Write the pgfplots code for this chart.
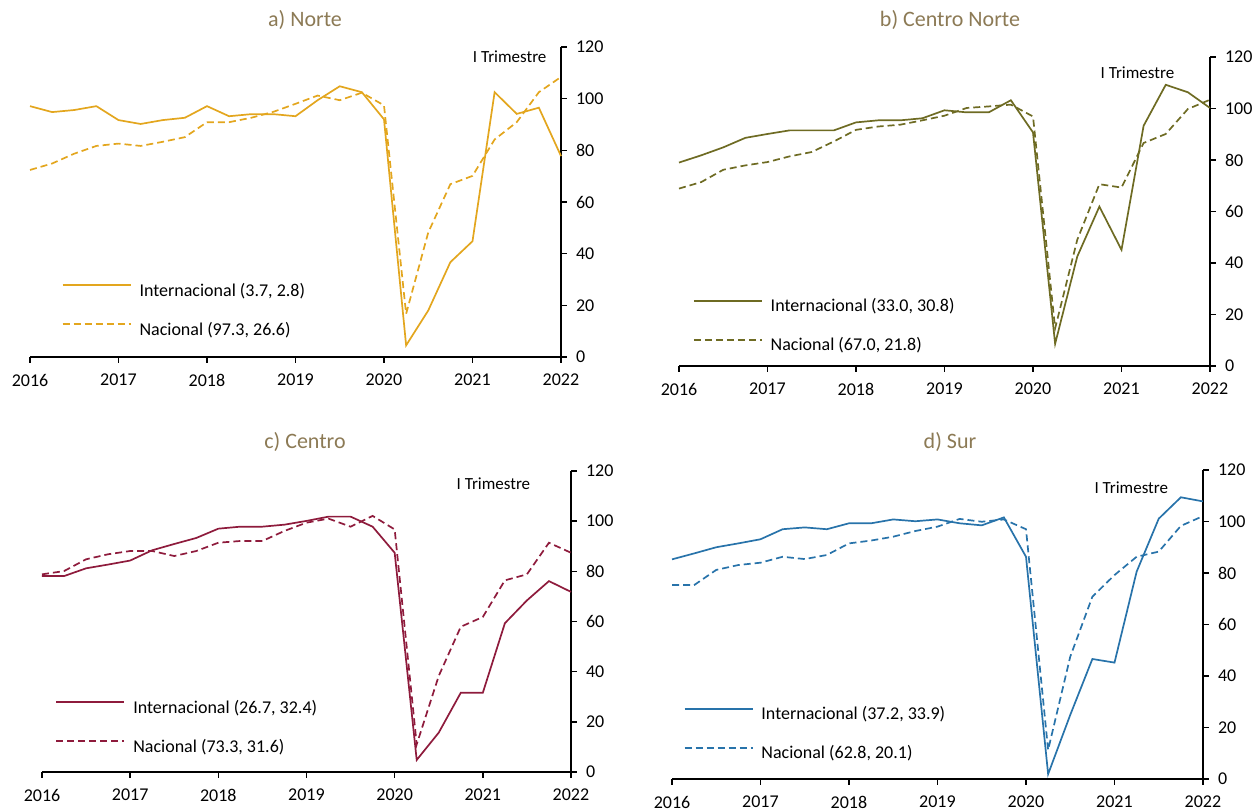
\documentclass[border=0pt]{standalone}
\usepackage{fontspec}
\setmainfont{Carlito}
\usepackage{pgfplots}
\usepackage{pgfplotstable}
\pgfplotsset{compat=1.18}
\definecolor{cnorte}{RGB}{227,166,30}
\definecolor{ccnorte}{RGB}{110,107,35}
\definecolor{ccentro}{RGB}{142,27,60}
\definecolor{csur}{RGB}{40,115,170}
\definecolor{ctitle}{RGB}{140,122,85}

\pgfplotstableread{
x i n
2016.00 97.1 72.4
2016.25 94.8 74.9
2016.50 95.6 78.7
2016.75 97.1 81.7
2017.00 91.7 82.6
2017.25 90.2 81.7
2017.50 91.7 83.3
2017.75 92.6 85.1
2018.00 97.1 90.9
2018.25 93.2 90.9
2018.50 94.0 92.6
2018.75 94.0 94.9
2019.00 93.2 98.0
2019.25 99.4 101.2
2019.50 104.8 99.4
2019.75 102.5 102.3
2020.00 92.0 97.4
2020.25 4.5 16.7
2020.50 18.0 48.2
2020.75 36.7 66.9
2021.00 44.8 70.1
2021.25 102.5 84.2
2021.50 94.1 90.9
2021.75 96.5 102.5
2022.00 77.8 108.4
}\norte

\pgfplotstableread{
x i n
2016.00 79.0 68.9
2016.25 81.8 71.4
2016.50 84.9 76.2
2016.75 88.6 77.9
2017.00 90.1 79.2
2017.25 91.5 81.4
2017.50 91.5 83.1
2017.75 91.5 87.2
2018.00 94.6 91.7
2018.25 95.4 93.0
2018.50 95.4 93.7
2018.75 96.2 95.4
2019.00 99.3 97.2
2019.25 98.5 100.2
2019.50 98.5 100.8
2019.75 103.2 101.5
2020.00 90.7 96.9
2020.25 8.6 14.6
2020.50 42.5 49.0
2020.75 61.9 70.6
2021.00 45.1 69.3
2021.25 93.3 86.6
2021.50 109.2 90.1
2021.75 106.3 99.8
2022.00 100.2 103.4
}\cnorte

\pgfplotstableread{
x i n
2016.00 78.1 78.8
2016.25 78.1 80.1
2016.50 81.2 84.8
2016.75 82.7 86.8
2017.00 84.3 88.1
2017.25 88.4 88.1
2017.50 90.9 86.1
2017.75 93.3 88.1
2018.00 97.0 91.4
2018.25 97.8 92.1
2018.50 97.8 92.1
2018.75 98.6 96.1
2019.00 100.1 99.4
2019.25 101.8 101.0
2019.50 101.8 97.8
2019.75 97.8 102.1
2020.00 87.4 96.7
2020.25 4.8 11.0
2020.50 15.7 38.3
2020.75 31.6 57.9
2021.00 31.6 61.8
2021.25 59.3 76.4
2021.50 68.4 78.8
2021.75 76.1 91.4
2022.00 71.8 87.4
}\centro

\pgfplotstableread{
x i n
2016.00 85.3 75.3
2016.25 87.6 75.3
2016.50 90.0 81.2
2016.75 91.5 83.1
2017.00 93.1 84.0
2017.25 97.0 86.3
2017.50 97.7 85.4
2017.75 97.0 87.0
2018.00 99.3 91.5
2018.25 99.3 92.6
2018.50 100.8 94.1
2018.75 100.1 96.3
2019.00 100.8 98.0
2019.25 99.3 101.0
2019.50 98.5 99.9
2019.75 101.6 100.8
2020.00 86.3 97.0
2020.25 1.9 11.3
2020.50 24.9 47.5
2020.75 46.6 70.8
2021.00 45.2 79.2
2021.25 80.5 86.3
2021.50 101.1 88.3
2021.75 109.4 98.3
2022.00 107.8 102.1
}\sur

\pgfplotsset{panel/.style={
  scale only axis, anchor=south west,
  xmin=2016, xmax=2022, ymin=0, ymax=120,
  axis x line=bottom, axis y line=right,
  axis line style={-, line width=0.75pt, black},
  xtick={2016,2017,...,2022}, ytick={0,20,...,120},
  x tick label style={/pgf/number format/.cd, 1000 sep={}, /tikz/.cd, yshift=-2pt},
  y tick label style={xshift=1pt},
  /pgf/number format/assume math mode=true,
  tick align=outside, major tick length=3pt,
  tick style={black, line width=0.75pt},
  ticklabel style={font=\fontsize{9}{10}\selectfont},
  clip=false,
  legend cell align=left,
  legend style={draw=none, fill=none, inner sep=0pt,
    font=\fontsize{9}{11}\selectfont, row sep=10.5pt,
    nodes={inner sep=0pt, text height=7pt, text depth=2pt}},
  legend image code/.code={\draw[##1] (0pt,3pt) -- (34pt,3pt); \path (38pt,3pt);},
},
solidl/.style={line width=0.85pt},
dashl/.style={line width=0.85pt, dash pattern=on 3.5pt off 2pt},
}

\begin{document}
\begin{tikzpicture}
\path[use as bounding box] (0,0) rectangle (628.5pt,406pt);
\tikzset{ttl/.style={font=\fontsize{11}{12}\selectfont, text=ctitle}}
\node[ttl] at (152.5pt,396pt) {a) Norte};
\node[ttl] at (475pt,396pt) {b) Centro Norte};
\node[ttl] at (152.5pt,185.2pt) {c) Centro};
\node[ttl] at (475pt,185.2pt) {d) Sur};

% a) Norte
\begin{axis}[panel, at={(15pt,227.5pt)}, width=265.5pt, height=155pt,
  legend style={at={(axis cs:2016.355,29.1)}, anchor=north west}]
\addplot[solidl, color=cnorte] table[x=x,y=i] {\norte};
\addlegendentry{Internacional (3.7, 2.8)}
\addplot[dashl, color=cnorte] table[x=x,y=n] {\norte};
\addlegendentry{Nacional (97.3, 26.6)}
\node[font=\fontsize{8.5}{10}\selectfont] at (axis cs:2021.42,116.4) {I Trimestre};
\end{axis}

% b) Centro Norte
\begin{axis}[panel, at={(339.5pt,223pt)}, width=265.5pt, height=154.5pt,
  legend style={at={(axis cs:2016.154,26.6)}, anchor=north west}]
\addplot[solidl, color=ccnorte] table[x=x,y=i] {\cnorte};
\addlegendentry{Internacional (33.0, 30.8)}
\addplot[dashl, color=ccnorte] table[x=x,y=n] {\cnorte};
\addlegendentry{Nacional (67.0, 21.8)}
\node[font=\fontsize{8.5}{10}\selectfont] at (axis cs:2021.18,113.8) {I Trimestre};
\end{axis}

% c) Centro
\begin{axis}[panel, at={(21pt,20pt)}, width=264.5pt, height=150.5pt,
  legend style={at={(axis cs:2016.15,29.2)}, anchor=north west}]
\addplot[solidl, color=ccentro] table[x=x,y=i] {\centro};
\addlegendentry{Internacional (26.7, 32.4)}
\addplot[dashl, color=ccentro] table[x=x,y=n] {\centro};
\addlegendentry{Nacional (73.3, 31.6)}
\node[font=\fontsize{8.5}{10}\selectfont] at (axis cs:2021.12,115) {I Trimestre};
\end{axis}

% d) Sur
\begin{axis}[panel, at={(336pt,16.5pt)}, width=265.5pt, height=154.5pt,
  legend style={at={(axis cs:2016.128,28.6)}, anchor=north west}]
\addplot[solidl, color=csur] table[x=x,y=i] {\sur};
\addlegendentry{Internacional (37.2, 33.9)}
\addplot[dashl, color=csur] table[x=x,y=n] {\sur};
\addlegendentry{Nacional (62.8, 20.1)}
\node[font=\fontsize{8.5}{10}\selectfont] at (axis cs:2021.19,113.1) {I Trimestre};
\end{axis}
\end{tikzpicture}
\end{document}
